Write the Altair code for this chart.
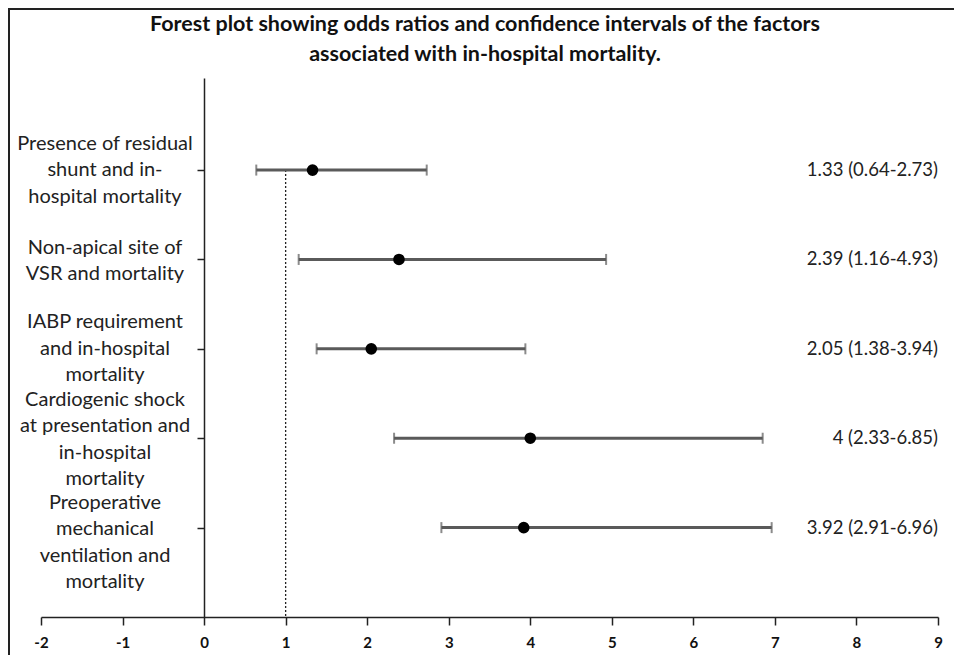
import altair as alt
import pandas as pd

factors = [
    "Presence of residual\nshunt and in-\nhospital mortality",
    "Non-apical site of\nVSR and mortality",
    "IABP requirement\nand in-hospital\nmortality",
    "Cardiogenic shock\nat presentation and\nin-hospital\nmortality",
    "Preoperative\nmechanical\nventilation and\nmortality",
]
odds_ratio = [1.33, 2.39, 2.05, 4.0, 3.92]
ci_low = [0.64, 1.16, 1.38, 2.33, 2.91]
ci_high = [2.73, 4.93, 3.94, 6.85, 6.96]
ci_text = ["1.33 (0.64-2.73)", "2.39 (1.16-4.93)", "2.05 (1.38-3.94)", "4 (2.33-6.85)", "3.92 (2.91-6.96)"]
row_pos = [5, 4, 3, 2, 1]
x_ticks = list(range(-2, 10))
ref_value = 1
title_text = ("Forest plot showing odds ratios and confidence intervals of the factors\n"
              "associated with in-hospital mortality.")

# style: vertical nudge (px) of each label block relative to its row
LINE_H = 26.5
label_nudge = [0, 1.5, 0, 1.5, 15]

df = pd.DataFrame({
    "factor": factors, "or": odds_ratio, "lo": ci_low, "hi": ci_high,
    "label": ci_text, "row": row_pos,
})

FONT = "Lato"
xs = alt.Scale(domain=[-2, 9], nice=False, zero=False)
ys = alt.Scale(domain=[0, 6.03], nice=False, zero=False)

base = alt.Chart(df)

xaxis = alt.Axis(values=x_ticks, title=None, grid=False, domainColor="#222", domainWidth=1.5,
                 tickColor="#222", tickWidth=1.5, tickSize=8, labelFont=FONT, labelFontWeight="bold",
                 labelFontSize=15, labelColor="#111", labelPadding=10, labelFlush=False,
                 labelExpr="toString(datum.value)")
yaxis = alt.Axis(values=row_pos, title=None, grid=False, labels=False, domainColor="#222",
                 domainWidth=1.5, tickColor="#222", tickWidth=1.5, tickSize=7, offset=-163)

bars = base.mark_rule(color="#5a5a5a", strokeWidth=3).encode(
    x=alt.X("lo:Q", scale=xs, axis=xaxis),
    x2="hi:Q",
    y=alt.Y("row:Q", scale=ys, axis=yaxis),
)
cap_lo = base.mark_tick(color="#5a5a5a", orient="vertical", size=11, thickness=2).encode(
    x=alt.X("lo:Q", scale=xs), y=alt.Y("row:Q", scale=ys))
cap_hi = base.mark_tick(color="#5a5a5a", orient="vertical", size=11, thickness=2).encode(
    x=alt.X("hi:Q", scale=xs), y=alt.Y("row:Q", scale=ys))

ref = alt.Chart(pd.DataFrame({"x": [ref_value], "top": [max(row_pos)], "bottom": [0]})).mark_rule(
    color="#222", strokeDash=[2, 2], strokeWidth=1.3).encode(
    x=alt.X("x:Q", scale=xs), y=alt.Y("top:Q", scale=ys), y2="bottom:Q")

points = base.mark_circle(color="black", opacity=1, size=135).encode(
    x=alt.X("or:Q", scale=xs), y=alt.Y("row:Q", scale=ys))

right_text = base.mark_text(align="right", baseline="middle", font=FONT, fontSize=18.5,
                            color="#222").encode(
    x=alt.value(897), y=alt.Y("row:Q", scale=ys), text="label:N")

# one text layer per label so each multi-line block sits centred on its row
left_layers = []
for f, nudge in zip(factors, label_nudge):
    n = f.count("\n") + 1
    left_layers.append(
        base.transform_filter(alt.datum.factor == f).mark_text(
            align="center", baseline="middle", font=FONT, fontSize=20,
            lineHeight=LINE_H, lineBreak="\n", color="#222",
            dy=-(n - 1) * LINE_H / 2 + nudge).encode(
            x=alt.value(64), y=alt.Y("row:Q", scale=ys), text="factor:N")
    )

title = alt.Chart(pd.DataFrame({"t": [title_text]})).mark_text(
    align="center", baseline="middle", font=FONT, fontSize=21.5, fontWeight="bold",
    lineHeight=30, lineBreak="\n", color="#111").encode(
    x=alt.value(444), y=alt.value(-53), text="t:N")

frame_left = alt.Chart(pd.DataFrame({"a": [0]})).mark_rule(color="#222", strokeWidth=2).encode(
    x=alt.value(-32), y=alt.value(-70), y2=alt.value(650))
frame_top = alt.Chart(pd.DataFrame({"a": [0]})).mark_rule(color="#222", strokeWidth=2).encode(
    x=alt.value(-33), x2=alt.value(930), y=alt.value(-69))

chart = alt.layer(frame_left, frame_top, ref, bars, cap_lo, cap_hi, points, right_text,
                  *left_layers, title).properties(
    width=897, height=539,
    padding={"left": 33, "top": 70, "right": 16, "bottom": 38},
    autosize=alt.AutoSizeParams(type="none"),
    background="white",
).configure_view(strokeWidth=0)

chart.save("out.html", embed_options={"renderer": "svg", "actions": False})
